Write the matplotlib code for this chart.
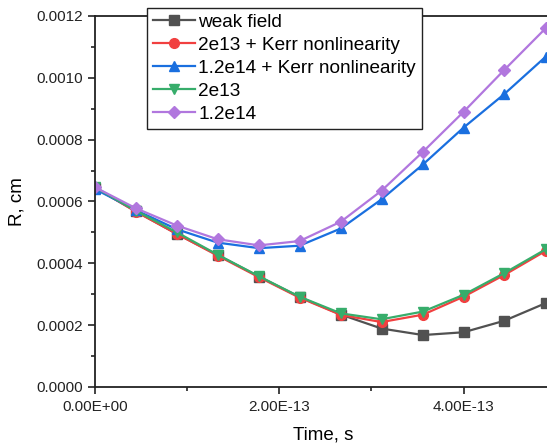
import matplotlib
matplotlib.use("Agg")
import matplotlib.pyplot as plt
from matplotlib.ticker import FormatStrFormatter, MultipleLocator

plt.rcParams["font.family"] = ["Liberation Sans", "DejaVu Sans"]

# ── Data ──────────────────────────────────────────────────────────────────────
time_s = [0.0, 4.44e-14, 8.89e-14, 1.33e-13, 1.78e-13, 2.22e-13,
          2.67e-13, 3.11e-13, 3.56e-13, 4.00e-13, 4.44e-13, 4.89e-13]

weak_field = [0.000645, 0.000568, 0.000495, 0.000427, 0.000357, 0.000291,
              0.000234, 0.000189, 0.000168, 0.000177, 0.000214, 0.000271]
kerr_2e13 = [0.000645, 0.000567, 0.000495, 0.000425, 0.000355, 0.000289,
             0.000233, 0.000210, 0.000234, 0.000292, 0.000362, 0.000440]
kerr_12e14 = [0.000640, 0.000572, 0.000510, 0.000467, 0.000449, 0.000457,
              0.000513, 0.000607, 0.000720, 0.000839, 0.000947, 0.001068]
plain_2e13 = [0.000646, 0.000570, 0.000500, 0.000428, 0.000358, 0.000292,
              0.000238, 0.000219, 0.000244, 0.000298, 0.000368, 0.000445]
plain_12e14 = [0.000646, 0.000578, 0.000522, 0.000478, 0.000458, 0.000472,
               0.000535, 0.000635, 0.000761, 0.000890, 0.001025, 0.001160]

labels = ["weak field", "2e13 + Kerr nonlinearity", "1.2e14 + Kerr nonlinearity",
          "2e13", "1.2e14"]

# ── Plot ──────────────────────────────────────────────────────────────────────
fig = plt.figure(figsize=(5.47, 4.48), dpi=100)
ax = fig.add_axes([0.1737, 0.1362, 0.8338, 0.8281])

series = [
    (weak_field, "#515151", "s", 6.5),
    (kerr_2e13, "#F14040", "o", 7),
    (kerr_12e14, "#1A6FDF", "^", 7.5),
    (plain_2e13, "#37AD6B", "v", 7.5),
    (plain_12e14, "#B177DE", "D", 6.5),
]
for (vals, col, mk, ms), lab in zip(series, labels):
    ax.plot(time_s, vals, color=col, marker=mk, ms=ms, lw=1.6,
            mec=col, label=lab)

ax.set_xlim(0, 4.95e-13)
ax.set_ylim(0, 0.0012)
ax.xaxis.set_major_locator(MultipleLocator(2e-13))
ax.xaxis.set_minor_locator(MultipleLocator(1e-13))
ax.yaxis.set_major_locator(MultipleLocator(0.0002))
ax.yaxis.set_minor_locator(MultipleLocator(0.0001))
ax.yaxis.set_major_formatter(FormatStrFormatter("%.4f"))
ax.xaxis.set_major_formatter(FormatStrFormatter("%.2E"))

ax.tick_params(which="major", direction="out", length=5, width=1.2,
               labelsize=11, colors="#222222")
ax.tick_params(axis="x", which="major", pad=4.5)
ax.tick_params(which="minor", direction="out", length=3, width=1.2,
               colors="#222222")
for sp in ax.spines.values():
    sp.set_linewidth(1.3)
    sp.set_edgecolor("#222222")

ax.set_xlabel("Time, s", fontsize=13.5, labelpad=9)
ax.set_ylabel("R, cm", fontsize=13.5, labelpad=8)

leg = ax.legend(loc="upper left", bbox_to_anchor=(0.114, 1.0216),
                borderaxespad=0, fontsize=13.7, handlelength=2.2,
                handletextpad=0.2, labelspacing=0.3, borderpad=0.3,
                fancybox=False, framealpha=1, edgecolor="#222222")
leg.get_frame().set_linewidth(1.0)
leg.set_zorder(5)

plt.savefig("out.png", dpi=100)
